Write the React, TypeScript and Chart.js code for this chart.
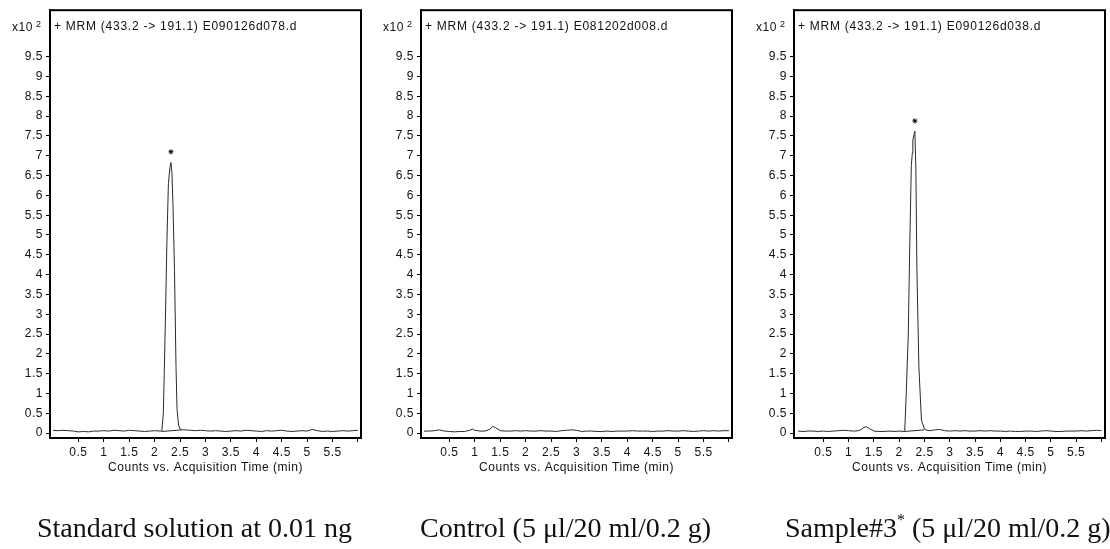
import React, { useEffect, useRef } from 'react';
import { Chart, registerables } from 'chart.js';

Chart.register(...registerables);

// ---------- text ----------
const panelTitles = [
  '+ MRM (433.2 -> 191.1) E090126d078.d',
  '+ MRM (433.2 -> 191.1) E081202d008.d',
  '+ MRM (433.2 -> 191.1) E090126d038.d',
];
const xAxisTitle = 'Counts vs. Acquisition Time (min)';
const yScaleLabel = 'x10';
const yScaleExponent = '2';

// ---------- ticks ----------
const yTickValues = [0, 0.5, 1, 1.5, 2, 2.5, 3, 3.5, 4, 4.5, 5, 5.5, 6, 6.5, 7, 7.5, 8, 8.5, 9, 9.5];
const yTickLabels = ['0', '0.5', '1', '1.5', '2', '2.5', '3', '3.5', '4', '4.5', '5', '5.5', '6', '6.5', '7', '7.5', '8', '8.5', '9', '9.5'];
const xTickValues = [0.5, 1, 1.5, 2, 2.5, 3, 3.5, 4, 4.5, 5, 5.5, 6];
const xTickLabels = ['0.5', '1', '1.5', '2', '2.5', '3', '3.5', '4', '4.5', '5', '5.5', ''];

// ---------- panel 1: standard solution ----------
const stdTime = [
  0, 0.1, 0.2, 0.3, 0.4, 0.5, 0.6, 0.7, 0.8, 0.9, 1.0, 1.1, 1.2, 1.3, 1.4, 1.5, 1.6, 1.7, 1.8, 1.9, 2.0, 2.1,
  2.14, 2.17, 2.19, 2.21, 2.24, 2.27, 2.30, 2.32, 2.34, 2.36, 2.39, 2.42, 2.44, 2.47, 2.50, 2.55,
  2.6, 2.7, 2.8, 2.9, 3.0, 3.1, 3.2, 3.3, 3.4, 3.5, 3.6, 3.7, 3.8, 3.9, 4.0, 4.1, 4.2, 4.3, 4.4, 4.5,
  4.6, 4.7, 4.8, 4.9, 5.0, 5.1, 5.2, 5.3, 5.4, 5.5, 5.6, 5.7, 5.8, 5.9, 6.0,
];
const stdCounts = [
  0.07, 0.06, 0.07, 0.06, 0.05, 0.03, 0.04, 0.03, 0.05, 0.05, 0.06, 0.05, 0.07, 0.06, 0.05, 0.07, 0.06, 0.05, 0.04, 0.05, 0.06, 0.05,
  0.05, 0.5, 1.6, 2.8, 4.8, 6.3, 6.7, 6.83, 6.55, 5.75, 4.1, 1.66, 0.6, 0.2, 0.1, 0.08,
  0.08, 0.07, 0.06, 0.07, 0.06, 0.05, 0.06, 0.05, 0.04, 0.05, 0.06, 0.05, 0.07, 0.06, 0.05, 0.04, 0.06, 0.05, 0.06, 0.07,
  0.05, 0.04, 0.05, 0.06, 0.05, 0.09, 0.06, 0.04, 0.05, 0.04, 0.05, 0.06, 0.05, 0.06, 0.07,
];
const stdBaseTime = [2.14, 2.53];
const stdBaseCounts = [0.04, 0.08];
const stdMarkTime = [2.32];
const stdMarkCounts = [7.1];

// ---------- panel 2: control ----------
const ctlTime = [
  0, 0.1, 0.2, 0.3, 0.4, 0.5, 0.6, 0.7, 0.8, 0.9, 0.95, 1.0, 1.1, 1.2, 1.3, 1.35, 1.4, 1.5,
  1.6, 1.7, 1.8, 1.9, 2.0, 2.1, 2.2, 2.3, 2.4, 2.5, 2.6, 2.7, 2.8, 2.9, 3.0, 3.1, 3.2, 3.3, 3.4, 3.5,
  3.6, 3.7, 3.8, 3.9, 4.0, 4.1, 4.2, 4.3, 4.4, 4.5, 4.6, 4.7, 4.8, 4.9, 5.0, 5.1, 5.2, 5.3, 5.4, 5.5,
  5.6, 5.7, 5.8, 5.9, 6.0,
];
const ctlCounts = [
  0.05, 0.05, 0.06, 0.08, 0.05, 0.04, 0.03, 0.04, 0.04, 0.07, 0.1, 0.07, 0.05, 0.05, 0.1, 0.17, 0.14, 0.06,
  0.05, 0.05, 0.06, 0.05, 0.06, 0.05, 0.05, 0.06, 0.05, 0.05, 0.04, 0.06, 0.07, 0.08, 0.07, 0.04, 0.05, 0.05, 0.04, 0.04,
  0.05, 0.04, 0.05, 0.05, 0.05, 0.06, 0.05, 0.05, 0.05, 0.04, 0.05, 0.05, 0.06, 0.05, 0.05, 0.06, 0.05, 0.04, 0.05, 0.06,
  0.05, 0.06, 0.05, 0.06, 0.06,
];

// ---------- panel 3: sample #3 ----------
const smpTime = [
  0, 0.1, 0.2, 0.3, 0.4, 0.5, 0.6, 0.7, 0.8, 0.9, 1.0, 1.1, 1.2, 1.25, 1.3, 1.35, 1.4, 1.5, 1.6, 1.7, 1.8, 1.9, 2.0, 2.1,
  2.11, 2.14, 2.18, 2.21, 2.24, 2.26, 2.27, 2.31, 2.33, 2.35, 2.39, 2.44, 2.50, 2.55,
  2.6, 2.7, 2.8, 2.9, 3.0, 3.1, 3.2, 3.3, 3.4, 3.5, 3.6, 3.7, 3.8, 3.9, 4.0, 4.1, 4.2, 4.3, 4.4, 4.5,
  4.6, 4.7, 4.8, 4.9, 5.0, 5.1, 5.2, 5.3, 5.4, 5.5, 5.6, 5.7, 5.8, 5.9, 6.0,
];
const smpCounts = [
  0.05, 0.04, 0.05, 0.05, 0.04, 0.05, 0.04, 0.05, 0.06, 0.07, 0.06, 0.05, 0.06, 0.09, 0.14, 0.16, 0.12, 0.05, 0.04, 0.04, 0.05, 0.04, 0.05, 0.04,
  0.05, 1.0, 2.5, 4.8, 6.75, 7.07, 7.4, 7.62, 6.66, 4.16, 1.66, 0.33, 0.1, 0.07,
  0.06, 0.08, 0.09, 0.06, 0.05, 0.06, 0.05, 0.06, 0.05, 0.05, 0.06, 0.05, 0.06, 0.05, 0.05, 0.04, 0.05, 0.04, 0.04, 0.05,
  0.05, 0.04, 0.05, 0.06, 0.05, 0.04, 0.04, 0.05, 0.05, 0.05, 0.06, 0.05, 0.06, 0.07, 0.06,
];
const smpBaseTime = [2.11, 2.49];
const smpBaseCounts = [0.04, 0.08];
const smpMarkTime = [2.31];
const smpMarkCounts = [7.88];

const toXY = (xs: number[], ys: number[]) => xs.map((x, i) => ({ x, y: ys[i] }));

const SANS = '"Liberation Sans", Arial, Helvetica, sans-serif';
const SERIF = '"Liberation Serif", "Times New Roman", Times, serif';

const framePlugin = {
  id: 'frame',
  beforeDraw(chart: any) {
    chart.ctx.letterSpacing = '0.5px';
  },
  afterDraw(chart: any, _args: any, opts: any) {
    const { ctx, chartArea: a } = chart;
    ctx.save();
    ctx.strokeStyle = '#000';
    ctx.lineWidth = 2;
    ctx.strokeRect(a.left, a.top, a.right - a.left, a.bottom - a.top);
    ctx.fillStyle = '#111';
    ctx.textBaseline = 'middle';
    ctx.textAlign = 'left';
    ctx.font = `12px ${SANS}`;
    ctx.letterSpacing = '0.75px';
    ctx.fillText(opts.text, a.left + 4, a.top + 16);
    ctx.letterSpacing = '0.5px';
    ctx.fillText(yScaleLabel, a.left - 38, a.top + 17);
    ctx.font = `9px ${SANS}`;
    ctx.fillText(yScaleExponent, a.left - 14, a.top + 14);
    ctx.restore();
  },
};

type PanelProps = {
  left: number;
  width: number;
  yAxisWidth: number;
  padRight: number;
  xMin: number;
  xMax: number;
  title: string;
  time: number[];
  counts: number[];
  baseTime?: number[];
  baseCounts?: number[];
  markTime?: number[];
  markCounts?: number[];
};

function Panel(p: PanelProps) {
  const ref = useRef<HTMLCanvasElement | null>(null);
  useEffect(() => {
    if (!ref.current) return;
    const datasets: any[] = [
      {
        type: 'line',
        data: toXY(p.time, p.counts),
        borderColor: '#2a2a2a',
        borderWidth: 1,
        pointRadius: 0,
        tension: 0,
        fill: false,
      },
    ];
    if (p.baseTime && p.baseCounts) {
      datasets.push({
        type: 'line',
        data: toXY(p.baseTime, p.baseCounts),
        borderColor: '#2a2a2a',
        borderWidth: 1,
        pointRadius: 0,
        fill: false,
      });
    }
    if (p.markTime && p.markCounts) {
      datasets.push({
        type: 'scatter',
        data: toXY(p.markTime, p.markCounts),
        pointStyle: 'star',
        pointRadius: 2.5,
        borderColor: '#000',
        backgroundColor: '#000',
        borderWidth: 1,
        showLine: false,
      });
    }
    const axisGrid = {
      display: true,
      drawOnChartArea: false,
      drawTicks: true,
      tickLength: 4,
      color: '#000',
      lineWidth: 1,
    };
    const chart = new Chart(ref.current, {
      type: 'line',
      data: { datasets },
      plugins: [framePlugin],
      options: {
        animation: false,
        responsive: true,
        maintainAspectRatio: false,
        events: [],
        layout: { padding: { left: 0, right: p.padRight, top: 6, bottom: 74 } },
        plugins: {
          legend: { display: false },
          tooltip: { enabled: false },
          frame: { text: p.title },
        } as any,
        scales: {
          x: {
            type: 'linear',
            min: p.xMin,
            max: p.xMax,
            afterBuildTicks: (s: any) => {
              s.ticks = xTickValues.map((v) => ({ value: v }));
            },
            afterFit: (s: any) => {
              s.height = 37;
            },
            grid: axisGrid,
            border: { display: true, color: '#000', width: 2 },
            ticks: {
              autoSkip: false,
              maxRotation: 0,
              padding: 3,
              color: '#111',
              font: { family: SANS, size: 12 },
              callback: (_v: any, i: number) => xTickLabels[i],
            },
            title: {
              display: true,
              text: xAxisTitle,
              color: '#111',
              font: { family: SANS, size: 12 },
              padding: 0,
            },
          },
          y: {
            type: 'linear',
            min: -0.125,
            max: 10.675,
            afterBuildTicks: (s: any) => {
              s.ticks = yTickValues.map((v) => ({ value: v }));
            },
            afterFit: (s: any) => {
              s.width = p.yAxisWidth;
            },
            grid: axisGrid,
            border: { display: true, color: '#000', width: 2 },
            ticks: {
              autoSkip: false,
              padding: 3,
              color: '#111',
              font: { family: SANS, size: 12 },
              callback: (_v: any, i: number) => yTickLabels[i],
            },
          },
        },
      } as any,
    });
    return () => chart.destroy();
  }, []);
  return (
    <div style={{ position: 'absolute', left: p.left, top: 0, width: p.width, height: 549 }}>
      <canvas ref={ref} />
    </div>
  );
}

const captionStyle: React.CSSProperties = {
  position: 'absolute',
  top: 512,
  fontFamily: SERIF,
  fontSize: 28,
  lineHeight: '32px',
  whiteSpace: 'nowrap',
  color: '#111',
};

export default function App() {
  return (
    <div
      style={{
        position: 'fixed',
        left: 0,
        top: 0,
        width: 1110,
        height: 549,
        background: '#fff',
        overflow: 'hidden',
      }}
    >
      <Panel
        left={0}
        width={370}
        yAxisWidth={50}
        padRight={9}
        xMin={-0.06}
        xMax={6.06}
        title={panelTitles[0]}
        time={stdTime}
        counts={stdCounts}
        baseTime={stdBaseTime}
        baseCounts={stdBaseCounts}
        markTime={stdMarkTime}
        markCounts={stdMarkCounts}
      />
      <Panel
        left={371}
        width={370}
        yAxisWidth={50}
        padRight={9}
        xMin={-0.06}
        xMax={6.06}
        title={panelTitles[1]}
        time={ctlTime}
        counts={ctlCounts}
      />
      <Panel
        left={742}
        width={368}
        yAxisWidth={52}
        padRight={4}
        xMin={-0.08}
        xMax={6.07}
        title={panelTitles[2]}
        time={smpTime}
        counts={smpCounts}
        baseTime={smpBaseTime}
        baseCounts={smpBaseCounts}
        markTime={smpMarkTime}
        markCounts={smpMarkCounts}
      />
      <div style={{ ...captionStyle, left: 37 }}>Standard solution at 0.01 ng</div>
      <div style={{ ...captionStyle, left: 420 }}>Control (5 μl/20 ml/0.2 g)</div>
      <div style={{ ...captionStyle, left: 785 }}>
        Sample#3<sup style={{ fontSize: 16, verticalAlign: 'top', lineHeight: '16px' }}>*</sup> (5 μl/20 ml/0.2 g)
      </div>
    </div>
  );
}
